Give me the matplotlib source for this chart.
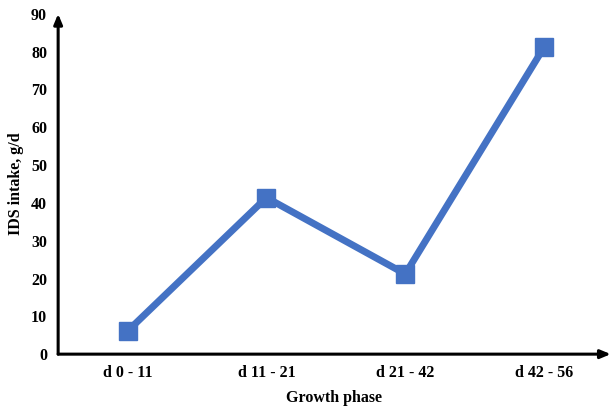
import matplotlib.pyplot as plt

phases = ["d 0 - 11", "d 11 - 21", "d 21 - 42", "d 42 - 56"]
ids_intake = [6.1, 41.4, 21.2, 81.2]
yticks = list(range(0, 100, 10))

plt.rcParams['font.family'] = ['Liberation Serif', 'DejaVu Serif']
plt.rcParams['font.weight'] = 'bold'

fig = plt.figure(figsize=(6.12, 4.08), dpi=100)
ax = fig.add_axes([0.095, 0.132, 0.903, 0.834])

x = range(len(phases))
ax.plot(x, ids_intake, color='#4472C4', lw=5, marker='s', markersize=13.5,
        solid_joinstyle='miter')

ax.set_xlim(-0.5, 3.48)
ax.set_ylim(0, 90)
ax.set_xticks(list(x))
ax.set_xticklabels(phases)
ax.set_yticks(yticks)
ax.tick_params(length=0, labelsize=11.5, pad=8)
for lab in ax.get_xticklabels() + ax.get_yticklabels():
    lab.set_fontweight('bold')

for s in ax.spines.values():
    s.set_visible(False)

# axis lines with arrowheads
ax.annotate('', xy=(0, 1.0), xytext=(0, 0), xycoords='axes fraction',
            arrowprops=dict(arrowstyle='-|>,head_length=0.6,head_width=0.25',
                            lw=2.2, color='black', shrinkA=0, shrinkB=0))
ax.annotate('', xy=(1.0, 0), xytext=(0, 0), xycoords='axes fraction',
            arrowprops=dict(arrowstyle='-|>,head_length=0.6,head_width=0.25',
                            lw=2.2, color='black', shrinkA=0, shrinkB=0))

ax.set_xlabel('Growth phase', fontsize=11.5, fontweight='bold', labelpad=6)
ax.set_ylabel('IDS intake, g/d', fontsize=11.5, fontweight='bold', labelpad=5)

fig.savefig('out.png', dpi=100)
